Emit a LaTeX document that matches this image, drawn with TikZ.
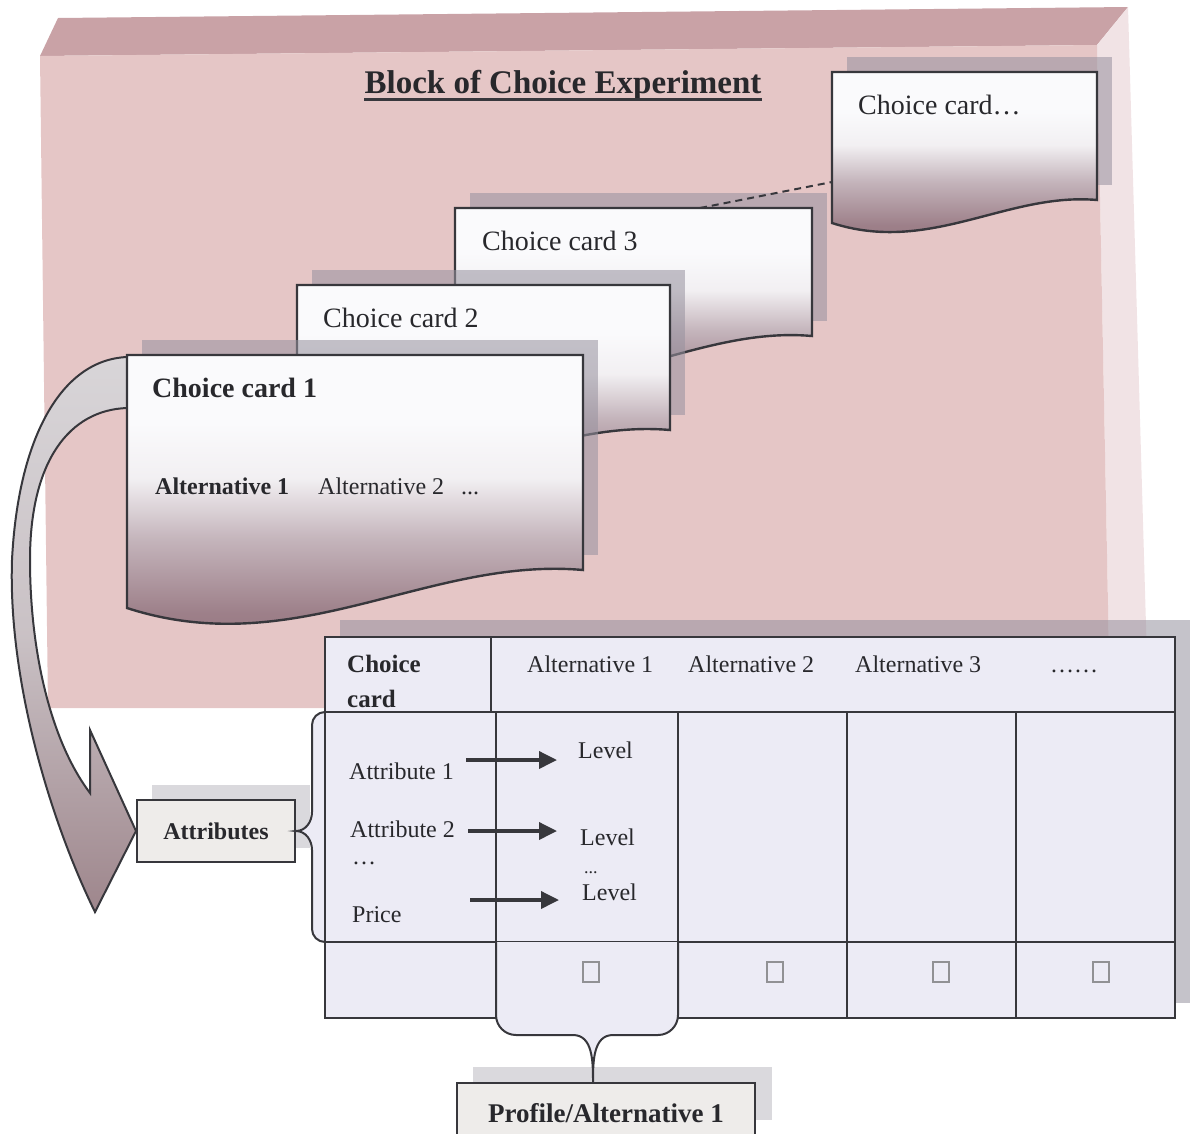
\documentclass[tikz,border=0pt]{standalone}
\usepackage{fontspec}
\setmainfont{Liberation Serif}
\usetikzlibrary{arrows.meta}

\definecolor{blockfront}{RGB}{229,198,198}
\definecolor{blocktop}{RGB}{201,162,166}
\definecolor{blockside}{RGB}{241,227,229}
\definecolor{cardbot}{RGB}{150,118,128}
\definecolor{cardmid}{RGB}{196,180,187}
\definecolor{cardtop}{RGB}{250,250,252}
\definecolor{shadowgrey}{RGB}{150,145,158}
\definecolor{tablefill}{RGB}{236,235,245}
\definecolor{boxfill}{RGB}{238,236,234}
\definecolor{linegrey}{RGB}{55,55,60}
\definecolor{textgrey}{RGB}{40,40,44}
\definecolor{arrowtop}{RGB}{216,213,216}
\definecolor{arrowbot}{RGB}{158,134,140}

\pgfdeclareverticalshading{cardshade}{100bp}{color(0bp)=(cardbot); color(25bp)=(cardbot);
  color(33bp)=(cardbot!85!cardmid); color(45bp)=(cardmid); color(55bp)=(cardtop!85!cardmid);
  color(64bp)=(cardtop); color(100bp)=(cardtop)}

% left, top, right, bottom right, bottom left
\newcommand{\choicecard}[5]{%
  \fill[cardshadow] ({#1+15},{#2-15}) rectangle ({#3+15},{#4-15});
  \draw[card] (#1,#2) -- (#3,#2) -- (#3,#4)
    .. controls ({#3-0.34*(#3-#1)},{#4-0.03*(#3-#1)}) and ({#1+0.37*(#3-#1)},{#5+0.12*(#3-#1)}) .. (#1,#5) -- cycle;}

\begin{document}
\begin{tikzpicture}[x=1pt,y=-1pt,
    every node/.style={inner sep=0pt, text=textgrey},
    card/.style={draw=linegrey, line width=2.4pt, shading=cardshade},
    cardshadow/.style={fill=shadowgrey, fill opacity=0.55},
    boxshadow/.style={fill=shadowgrey, fill opacity=0.35},
    tbl/.style={draw=linegrey, line width=2pt},
    lbl/.style={font=\fontsize{24}{27}\selectfont, anchor=base west},
    cardlbl/.style={font=\fontsize{28}{32}\selectfont, anchor=base west},
    levelarrow/.style={line width=3.6pt, draw=linegrey, -{Triangle[length=18pt,width=17pt]}},
    greybox/.style={draw=linegrey, line width=2pt, fill=boxfill, font=\bfseries\fontsize{24}{27}\selectfont},
    checkbox/.style={draw=linegrey!55, line width=1.4pt, minimum width=16pt, minimum height=20pt}
  ]
  \useasboundingbox (0,0) rectangle (1193,1133);

  % the block
  \fill[blocktop] (40,56) -- (58,18) -- (1128,7) -- (1097,45) -- cycle;
  \fill[blockside] (1097,45) -- (1128,7) -- (1147,660) -- (1110,708) -- cycle;
  \fill[blockfront] (40,56) -- (1097,45) -- (1110,708) -- (48,708) -- cycle;

  \node[font=\bfseries\fontsize{33}{38}\selectfont, anchor=base] (title) at (563,93) {Block of Choice Experiment};
  \draw[line width=3pt, linegrey] ([yshift=-6pt]title.base west) -- ([yshift=-6pt]title.base east);

  \fill[boxshadow] (152,785) rectangle (310,848);
  \node[greybox, minimum width=158pt, minimum height=62pt] (attr) at (216,831) {Attributes};

  % cards
  \choicecard{832}{72}{1097}{200}{223}
  \choicecard{455}{208}{812}{336}{370}
  \choicecard{297}{285}{670}{430}{462}
  \draw[linegrey, line width=2pt, top color=arrowtop, bottom color=arrowbot, middle color=arrowtop!75!arrowbot]
    (127,357) .. controls (60,360) and (18,440) .. (12,560) .. controls (8,680) and (50,820) .. (95,912)
    -- (attr.west) -- (90,730) -- (90,793) .. controls (50,740) and (30,650) .. (30,560)
    .. controls (30,460) and (70,410) .. (127,408) -- cycle;
  \choicecard{127}{355}{583}{570}{608}

  \node[cardlbl] (cdots) at (858,114) {Choice card…};
  \node[cardlbl] (c3) at (482,250) {Choice card 3};
  \node[cardlbl] (c2) at (323,327) {Choice card 2};
  \node[cardlbl, font=\bfseries\fontsize{28}{32}\selectfont] (c1) at (152,397) {Choice card 1};
  \node[lbl, font=\bfseries\fontsize{24}{27}\selectfont] (c1alt1) at (155,494) {Alternative 1};
  \node[lbl] (c1alt2) at (318,494) {Alternative 2\hspace{17pt}...};

  \coordinate (c3top) at (700,208);
  \coordinate (cdotsleft) at (832,182);
  \draw[linegrey, line width=2pt, dash pattern=on 7pt off 5pt] (c3top) -- (cdotsleft);

  % the table
  \fill[cardshadow] (340,620) rectangle (1190,1003);
  \draw[tbl, fill=tablefill] (332,712) -- (325,712) to[out=180,in=90] (312,725) -- (312,812)
    to[out=-90,in=0] (attr.east) to[out=0,in=90] (312,850) -- (312,929) to[out=-90,in=180] (325,942) -- (332,942);
  \draw[tbl, fill=tablefill] (325,637) rectangle (1175,1018);
  \draw[tbl] (325,712) -- (1175,712);
  \draw[tbl] (325,942) -- (1175,942);
  \draw[tbl] (491,637) -- (491,712);
  \foreach \x in {496,678,847,1016}
    \draw[tbl] (\x,712) -- (\x,1018);

  \node[font=\bfseries\fontsize{25}{35}\selectfont, anchor=north west, align=left] (hdr) at (347,655) {Choice\\card};
  \foreach \x/\t [count=\i] in {527/Alternative 1, 688/Alternative 2, 855/Alternative 3, 1050/……}
    \node[lbl] (alt\i) at (\x,672) {\t};

  \node[lbl] (att1) at (349,779) {Attribute 1};
  \node[lbl] (att2) at (350,837) {Attribute 2};
  \node[lbl] (attdots) at (352,864) {…};
  \node[lbl] (price) at (352,922) {Price};
  \node[lbl] (lev1) at (578,758) {Level};
  \node[lbl] (lev2) at (580,845) {Level};
  \node[lbl, font=\fontsize{18}{20}\selectfont] (levdots) at (584,873) {...};
  \node[lbl] (lev3) at (582,900) {Level};

  \coordinate (a1) at (466,760);
  \coordinate (l1) at (557,760);
  \coordinate (a2) at (468,831);
  \coordinate (l2) at (557,831);
  \coordinate (a3) at (470,900);
  \coordinate (l3) at (559,900);
  \draw[levelarrow] (a1) -- (l1);
  \draw[levelarrow] (a2) -- (l2);
  \draw[levelarrow] (a3) -- (l3);

  % profile
  \fill[boxshadow] (473,1067) rectangle (772,1120);
  \node[greybox, minimum width=298pt, minimum height=60pt, font=\bfseries\fontsize{27}{30}\selectfont] (prof) at (606,1113) {Profile/Alternative 1\hspace{10pt}};
  \draw[tbl, fill=tablefill] (496,942) -- (496,1015) to[out=-90,in=180] (516,1035) -- (573,1035)
    to[out=0,in=90] ([xshift=-13pt]prof.north) to[out=90,in=180] (613,1035) -- (658,1035)
    to[out=0,in=-90] (678,1015) -- (678,942);

  \foreach \x [count=\i] in {591,775,941,1101}
    \node[checkbox] (box\i) at (\x,972) {};
\end{tikzpicture}
\end{document}
